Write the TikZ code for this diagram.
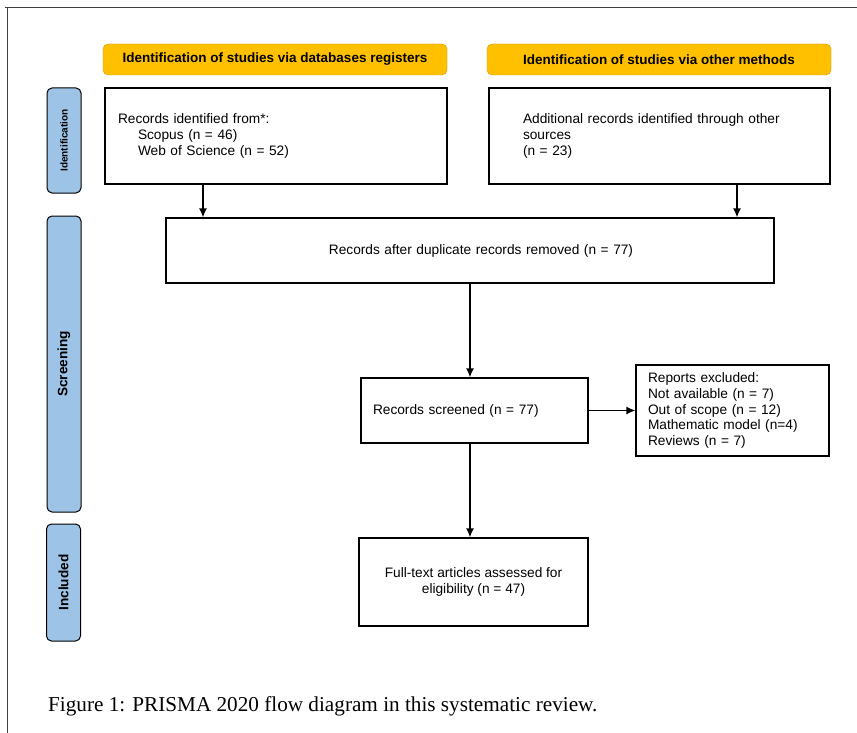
\documentclass[tikz,border=0pt]{standalone}
\usepackage{fontspec}
\setmainfont{Liberation Sans}
\newfontfamily\capfont{Liberation Serif}
\usepackage{tikz}
\usetikzlibrary{arrows,arrows.meta,positioning}
\definecolor{hdryellow}{HTML}{FFC000}
\definecolor{hdrborder}{HTML}{C99A00}
\definecolor{phaseblue}{HTML}{9DC3E6}
\tikzstyle{header} = [rectangle, draw=hdrborder, fill=hdryellow, rounded corners=5pt,
    inner sep=0pt, minimum width=344pt, minimum height=31pt,
    font=\fontsize{13.5}{16}\selectfont\bfseries]
\tikzstyle{phase} = [rectangle, draw, line width=1pt, fill=phaseblue, rounded corners=5pt,
    inner sep=0pt, minimum height=34pt, rotate=90,
    font=\fontsize{13.6}{16}\selectfont\bfseries]
\tikzstyle{block} = [rectangle, draw, line width=1.2pt, inner sep=0pt,
    font=\fontsize{13.7}{16}\selectfont]
\tikzstyle{line} = [draw, line width=1.4pt, -{Latex[length=9pt,width=8pt]}]

\begin{document}
\begin{tikzpicture}[x=1pt, y=-1pt]
        \useasboundingbox (0,0) rectangle (857,733);
        % Frame
        \draw [black!75, line width=0.8pt] (5,7) -- (857,7);
        \draw [black!75, line width=0.8pt] (7,7) -- (7,733);
        % Place nodes
        \node [header] (hdrdb) at (275,59.5) {Identification of studies via databases registers};
        \node [header] (hdrother) at (659,59.5) {Identification of studies via other methods};
        \node [phase, minimum width=105pt, font=\fontsize{10}{12}\selectfont\bfseries] (identification) at (64,140.5) {Identification};
        \node [phase, minimum width=296pt] (screening) at (64,364) {Screening};
        \node [phase, minimum width=117pt] (included) at (63.5,582.5) {Included};
        \node [block, minimum width=342pt, minimum height=96pt, inner xsep=13pt, text width=316pt, align=left] (records) at (276,136)
            {Records identified from*:\\ \hspace*{20pt}Scopus (n = 46)\\ \hspace*{20pt}Web of Science (n = 52)};
        \node [block, minimum width=341pt, minimum height=96pt, inner xsep=34pt, text width=273pt, align=left] (other) at (659.5,136)
            {Additional records identified through other\\ sources\\ (n = 23)};
        \node [block, minimum width=608pt, minimum height=65pt, inner xsep=10pt, text width=588pt, align=center] (dupl) at (470,250.5)
            {\hspace*{22pt}Records after duplicate records removed (n = 77)};
        \node [block, minimum width=227pt, minimum height=65pt, inner xsep=12pt, text width=203pt, align=left] (screened) at (474.5,410.5)
            {Records screened (n = 77)};
        \node [block, minimum width=193pt, minimum height=91pt, inner xsep=12pt, text width=169pt, align=left,
            font=\fontsize{13.7}{15.7}\selectfont] (excluded) at (732.5,410.5)
            {Reports excluded:\\ Not available (n = 7)\\ Out of scope (n = 12)\\ Mathematic model (n=4)\\ Reviews (n = 7)};
        \node [block, minimum width=229pt, minimum height=88pt, align=center] (fulltext) at (473.5,582)
            {Full-text articles assessed for\\ eligibility (n = 47)};
        \node [anchor=west, inner sep=0pt, font=\capfont\fontsize{21.2}{24}\selectfont] (caption) at (48,706)
            {Figure 1: PRISMA 2020 flow diagram in this systematic review.};
        % Draw edges
        \path [line] ([xshift=-73pt]records.south) -- ([xshift=-73pt]records.south |- dupl.north);
        \path [line] ([xshift=77.5pt]other.south) -- ([xshift=77.5pt]other.south |- dupl.north);
        \path [line] (dupl.south) -- (dupl.south |- screened.north);
        \path [line] (screened) -- (excluded);
        \path [line] (screened.south -| dupl.south) -- (dupl.south |- fulltext.north);
    \end{tikzpicture}
\end{document}
